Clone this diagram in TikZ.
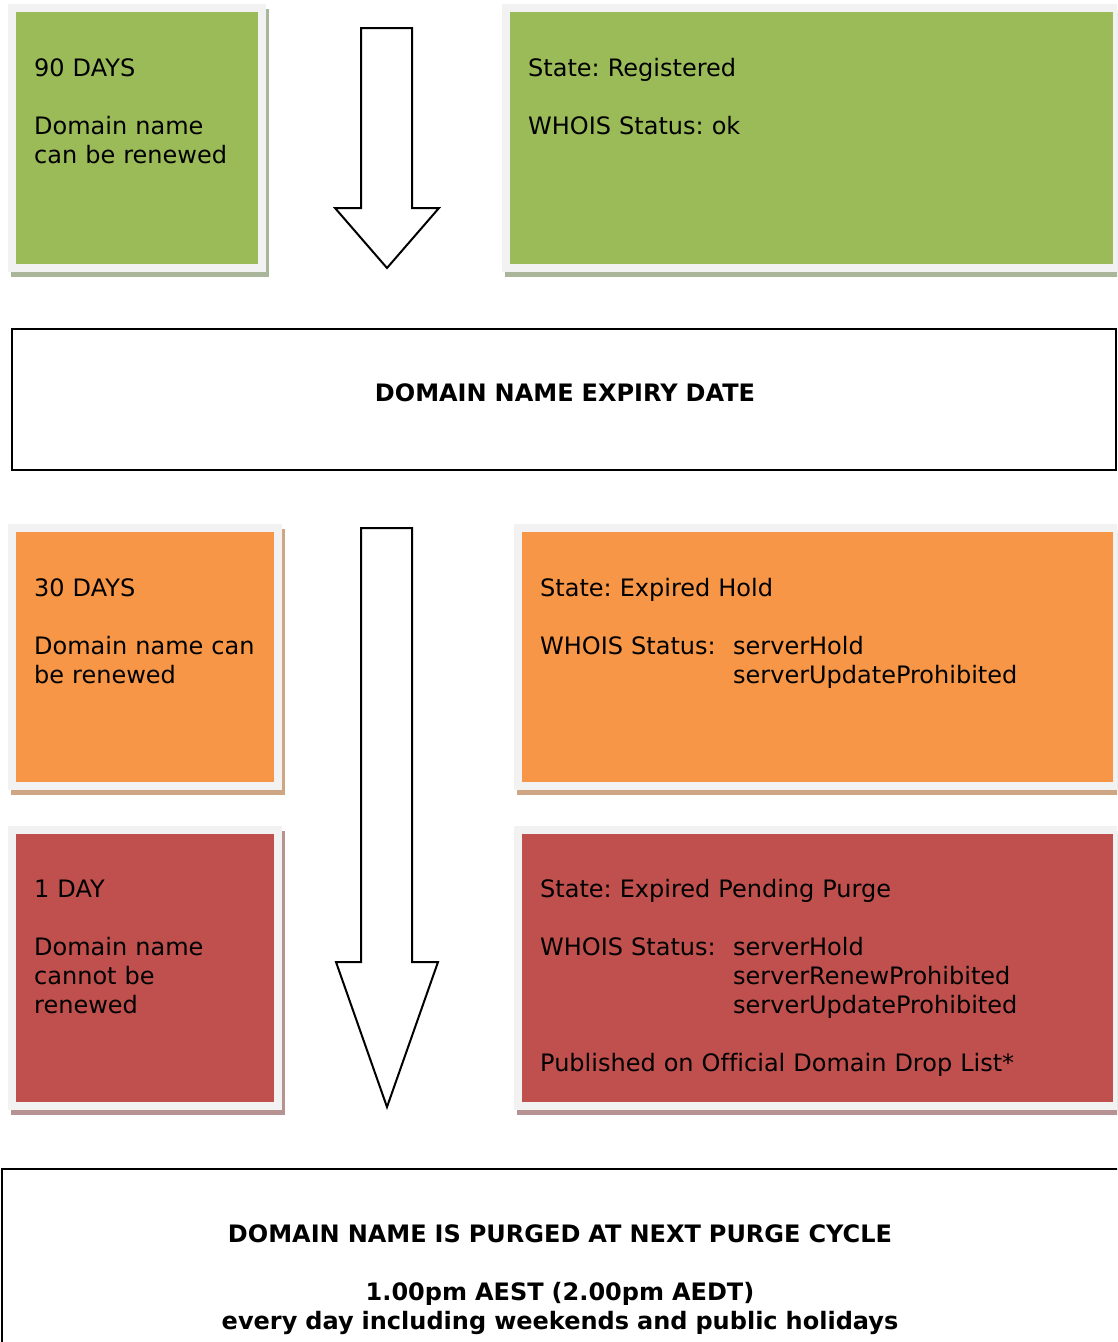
\documentclass[tikz,border=0pt]{standalone}
\usepackage{fontspec}
\setmainfont{DejaVu Sans}[Ligatures=CommonOff]
\usetikzlibrary{shadows}
\definecolor{stgreen}{HTML}{9BBB59}
\definecolor{storange}{HTML}{F79646}
\definecolor{stred}{HTML}{C0504D}
\definecolor{stframe}{HTML}{F2F2F2}
\definecolor{shgreen}{HTML}{A9B69A}
\definecolor{shorange}{HTML}{CFA683}
\definecolor{shred}{HTML}{B79292}
\newcommand{\statuslabel}{\makebox[193pt][l]{WHOIS Status:}}
\newcommand{\statusindent}{\hspace*{193pt}}
\frenchspacing

\begin{document}
\begin{tikzpicture}[x=1pt, y=-1pt, every node/.style={font=\fontsize{24}{29}\selectfont}]
  \tikzset{
    stagebox/.style 2 args={rectangle, draw=stframe, line width=8pt, fill=#1, inner sep=0pt,
      drop shadow={shadow xshift=3pt, shadow yshift=-5pt, opacity=1, fill=#2, draw=#2, line width=8pt}},
    boxtext/.style={anchor=base west, inner sep=0pt, text width=560pt, align=left},
    headtext/.style={anchor=base, inner sep=0pt, text width=1000pt, align=center,
      font=\fontsize{24}{29}\selectfont\bfseries},
    datebox/.style={rectangle, draw=black, line width=2pt, fill=white, inner sep=0pt},
    blockarrow/.style={draw=black, fill=white, line width=2pt, line join=miter}
  }
  \useasboundingbox (0,0) rectangle (1117,1342);
  \clip (0,0) rectangle (1117,1342);

  % Registered: 90 days before expiry
  \node[stagebox={stgreen}{shgreen}, minimum width=250pt, minimum height=260pt] (days90) at (137,138) {};
  \node[stagebox={stgreen}{shgreen}, minimum width=611pt, minimum height=260pt] (registered) at (811.5,138) {};
  \node[boxtext] (days90text) at (34,76) {90 DAYS\\[29pt]Domain name\\can be renewed};
  \node[boxtext] (registeredtext) at (528,76) {State: Registered\\[29pt]WHOIS Status: ok};

  \draw[blockarrow] (361,28) -- (412,28) -- (412,208) -- (439,208) -- (387,268) -- (335,208) -- (361,208) -- cycle;

  % Expiry date
  \node[datebox, minimum width=1104pt, minimum height=141pt] (expiry) at (564,399.5) {};
  \node[headtext] (expirytext) at (565,401) {DOMAIN NAME EXPIRY DATE};

  % Expired hold: 30 days
  \node[stagebox={storange}{shorange}, minimum width=266pt, minimum height=258pt] (days30) at (145,657) {};
  \node[stagebox={storange}{shorange}, minimum width=599pt, minimum height=258pt] (hold) at (817.5,657) {};
  \node[boxtext] (days30text) at (34,596) {30 DAYS\\[29pt]Domain name can\\be renewed};
  \node[boxtext] (holdtext) at (540,596) {State: Expired Hold\\[29pt]\statuslabel serverHold\\\statusindent serverUpdateProhibited};

  % Pending purge: 1 day
  \node[stagebox={stred}{shred}, minimum width=266pt, minimum height=276pt] (day1) at (145,968) {};
  \node[stagebox={stred}{shred}, minimum width=599pt, minimum height=276pt] (purge) at (817.5,968) {};
  \node[boxtext] (day1text) at (34,897) {1 DAY\\[29pt]Domain name\\cannot be\\renewed};
  \node[boxtext] (purgetext) at (540,897) {State: Expired Pending Purge\\[29pt]\statuslabel serverHold\\\statusindent serverRenewProhibited\\\statusindent serverUpdateProhibited\\[29pt]Published on Official Domain Drop List*};

  \draw[blockarrow] (361,528) -- (412,528) -- (412,962) -- (438,962) -- (387,1107) -- (336,962) -- (361,962) -- cycle;

  % Purge cycle
  \node[datebox, minimum width=1118pt, minimum height=190pt] (purged) at (561,1264) {};
  \node[headtext] (purgedtext) at (560,1242) {DOMAIN NAME IS PURGED AT NEXT PURGE CYCLE\\[29pt]1.00pm AEST (2.00pm AEDT)\\every day including weekends and public holidays};
\end{tikzpicture}
\end{document}
